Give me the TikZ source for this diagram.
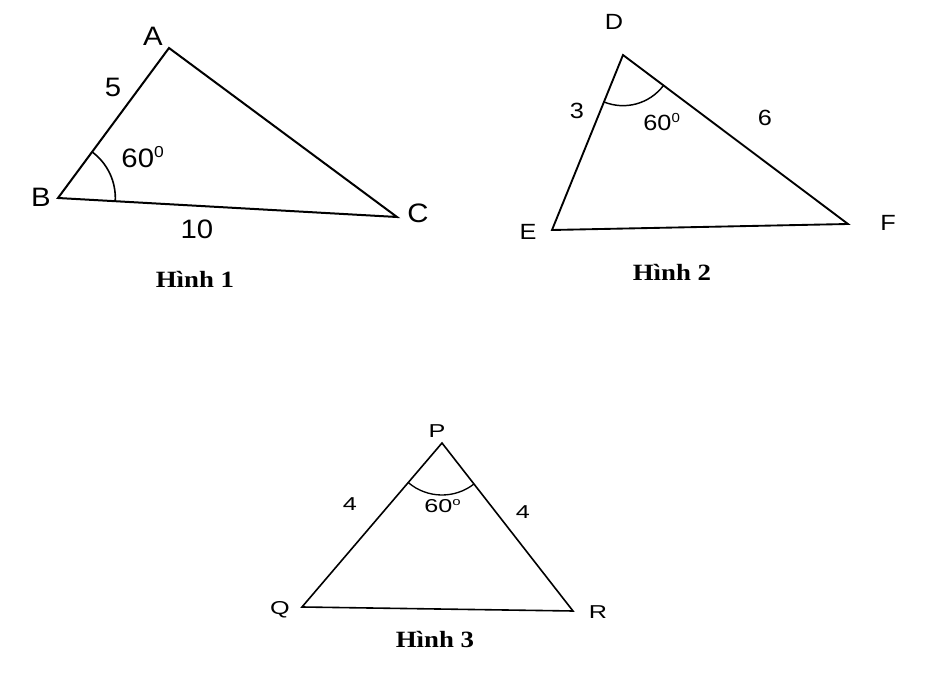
\documentclass[tikz,border=0pt]{standalone}
\usepackage{fontspec}
\setmainfont{Liberation Sans}
\newfontfamily\capfont{Liberation Serif}
\usetikzlibrary{angles}
\newcommand{\sxA}[1]{\scalebox{1.1}[1]{#1}}
\newcommand{\sxB}[1]{\scalebox{1.15}[1]{#1}}
\newcommand{\sxC}[1]{\scalebox{1.35}[1]{#1}}
\newcommand{\sxH}[1]{\scalebox{1.15}[1]{#1}}
\newcommand{\degsup}[1]{\textsuperscript{\scalebox{0.85}{#1}}}
\tikzset{
  lblA/.style={font=\fontsize{20}{20}\selectfont, inner sep=0pt},
  lblB/.style={font=\fontsize{16.5}{16.5}\selectfont, inner sep=0pt},
  lblC/.style={font=\fontsize{14}{14}\selectfont, inner sep=0pt},
  capt/.style={font=\capfont\bfseries\fontsize{17.5}{17.5}\selectfont, inner sep=0pt},
  triA/.style={line width=1.5pt, line join=miter},
  triB/.style={line width=1.4pt, line join=miter},
  triC/.style={line width=1.2pt, line join=miter},
}
\begin{document}
\begin{tikzpicture}[x=0.75pt, y=0.75pt]
\useasboundingbox (0,0) rectangle (933,-677);
% Figure 1
\coordinate (A) at (169,-48);
\coordinate (B) at (58,-198);
\coordinate (C) at (397,-217);
\draw[triA] (A) -- (B) -- (C) -- cycle;
\pic[draw, line width=1.2pt, angle radius=43pt] {angle = C--B--A};
\node[lblA] (lA) at (153,-36) {\sxA{A}};
\node[lblA] (lB) at (41,-197) {\sxA{B}};
\node[lblA] (lC) at (418,-213) {\sxA{C}};
\node[lblA] (l5) at (113,-87) {\sxA{5}};
\node[lblA] (l60a) at (143,-157) {\sxA{60\degsup{0}}};
\node[lblA] (l10) at (197,-229) {\sxA{10}};
\node[capt] (h1) at (195,-279) {\sxH{Hình 1}};
% Figure 2
\coordinate (D) at (623,-55);
\coordinate (E) at (552,-230);
\coordinate (F) at (848,-224);
\draw[triB] (D) -- (E) -- (F) -- cycle;
\pic[draw, line width=1.1pt, angle radius=38pt] {angle = E--D--F};
\node[lblB] (lD) at (614,-22) {\sxB{D}};
\node[lblB] (lE) at (528,-232) {\sxB{E}};
\node[lblB] (lF) at (888,-223) {\sxB{F}};
\node[lblB] (l3) at (577,-111) {\sxB{3}};
\node[lblB] (l60b) at (662,-122) {\sxB{60\degsup{0}}};
\node[lblB] (l6) at (765,-118) {\sxB{6}};
\node[capt] (h2) at (672,-272) {\sxH{Hình 2}};
% Figure 3
\coordinate (P) at (442,-443);
\coordinate (Q) at (302,-607);
\coordinate (R) at (573,-611);
\draw[triC] (P) -- (Q) -- (R) -- cycle;
\pic[draw, line width=1pt, angle radius=39pt] {angle = Q--P--R};
\node[lblC] (lP) at (437,-431) {\sxC{P}};
\node[lblC] (lQ) at (280,-610) {\sxC{Q}};
\node[lblC] (lR) at (598,-612) {\sxC{R}};
\node[lblC] (l4a) at (350,-504) {\sxC{4}};
\node[lblC] (l60c) at (443,-506) {\sxC{60\degsup{o}}};
\node[lblC] (l4b) at (523,-512) {\sxC{4}};
\node[capt] (h3) at (435,-640) {\sxH{Hình 3}};
\end{tikzpicture}
\end{document}
